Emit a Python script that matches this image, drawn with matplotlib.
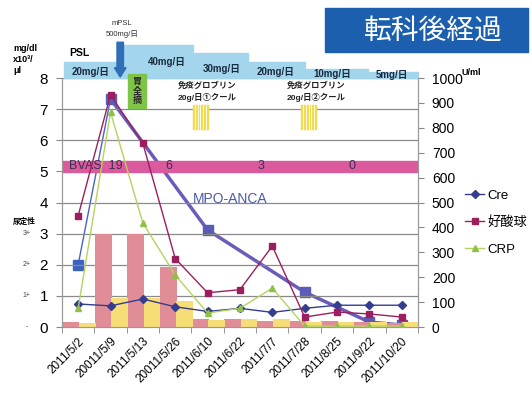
import numpy as np
import matplotlib.pyplot as plt
from matplotlib.patches import Rectangle, FancyArrow

plt.rcParams['font.family'] = ['Liberation Sans', 'Noto Sans CJK JP']

# --- data -------------------------------------------------------------
dates = ['2011/5/2', '20011/5/9', '2011/5/13', '20011/5/26', '2011/6/10',
         '2011/6/22', '2011/7/7', '2011/7/28', '2011/8/25', '2011/9/22',
         '2011/10/20']
cre = [0.74, 0.68, 0.9, 0.65, 0.5, 0.6, 0.47, 0.6, 0.7, 0.7, 0.7]
eos = [3.57, 7.46, 5.9, 2.2, 1.1, 1.2, 2.6, 0.32, 0.48, 0.42, 0.32]
crp = [0.6, 6.9, 3.34, 1.67, 0.45, 0.6, 1.25, 0.03, 0.03, 0.03, 0.03]
mpo_anca = [250, 916, np.nan, np.nan, 390, np.nan, np.nan, 140, np.nan, 20, 8]
urine_blood = [0.15, 3.0, 3.0, 1.93, 0.25, 0.25, 0.2, 0.2, 0.2, 0.15, 0.12]
urine_protein = [0.13, 0.93, 0.93, 0.83, 0.22, 0.25, 0.25, 0.15, 0.15, 0.15, 0.15]

psl_labels = ['20mg/日', '40mg/日', '30mg/日', '20mg/日', '10mg/日', '5mg/日']
psl_edges = [-0.44, 1.23, 3.54, 5.25, 7.0, 8.95, 10.5]
psl_tops = [8.5, 9.07, 8.8, 8.5, 8.3, 8.18]

bvas_labels = ['BVAS  19', '6', '3', '0']
bvas_x = [0.55, 2.8, 5.65, 8.45]

urine_ticks = [3, 2, 1, 0]
urine_tick_labels = ['3+', '2+', '1+', '-']

fig = plt.figure(figsize=(5.32, 3.96), dpi=100)
ax = fig.add_axes([0.1165, 0.1742, 0.669, 0.6288])
ax2 = ax.twinx()

x = np.arange(len(dates))

# urine bars
ax.bar(x - 0.22, urine_blood, width=0.52, color='#e18d98', zorder=2)
ax.bar(x + 0.28, urine_protein, width=0.52, color='#f5de76', zorder=2)

# BVAS band
ax.add_patch(Rectangle((-0.5, 4.98), 11.0, 0.36, color='#db5a9e', zorder=1.5))
for lbl, bx in zip(bvas_labels, bvas_x):
    ax.text(bx, 5.16, lbl, fontsize=9, color='#3a3050', ha='center', va='center',
            zorder=3)
ax.text(4.7, 4.12, 'MPO-ANCA', fontsize=10, color='#4a5aa8', ha='center',
        va='center', zorder=3)

# lines
l_cre, = ax.plot(x, cre, color='#343d8f', lw=1, marker='D', ms=4, zorder=5)
l_eos, = ax.plot(x, eos, color='#9b1f5f', lw=1, marker='s', ms=5, zorder=5)
l_crp, = ax.plot(x, crp, color='#b3d45e', lw=1, marker='^', ms=5,
                 mfc='#8fc04a', mec='#8fc04a', zorder=5)

mpo = np.array(mpo_anca, dtype=float)
ok = ~np.isnan(mpo)
ax2.plot(x[ok][:2], mpo[ok][:2], color='#4a63c0', lw=1, zorder=5)
ax2.plot(x[ok][1:], mpo[ok][1:], color='#6a5cb8', lw=2.5, zorder=5)
ax2.plot(x[ok][1:], mpo[ok][1:], ls='none', marker='s', ms=7,
         color='#5a5cb5', zorder=6)
ax2.plot(x[ok][:1], mpo[ok][:1], ls='none', marker='s', ms=7,
         color='#3d63c2', zorder=6)

# axes
ax.set_xlim(-0.5, 10.5)
ax.set_ylim(0, 8)
ax2.set_ylim(0, 1000)
ax.set_yticks(range(0, 9))
ax2.set_yticks(range(0, 1001, 100))
ax.set_xticks(x)
ax.set_xticks(np.arange(-0.5, 11, 1), minor=True)
ax.set_xticklabels(dates, rotation=45, ha='right', va='top',
                   rotation_mode='anchor', fontsize=8.5)
ax.tick_params(axis='x', which='major', length=0, pad=6)
ax.tick_params(axis='x', which='minor', length=4, color='#888888')
ax.tick_params(axis='y', labelsize=11, length=4, color='#888888', pad=6)
ax2.tick_params(axis='y', labelsize=10, length=4, color='#888888', pad=6)
ax.grid(axis='y', color='#8a8a8a', lw=0.9, zorder=0)
ax.set_axisbelow(True)
ax.set_zorder(ax2.get_zorder() + 1)
ax.patch.set_visible(False)
for a in (ax, ax2):
    a.spines['top'].set_visible(False)
    for s in ('left', 'right', 'bottom'):
        a.spines[s].set_color('#999999')

# PSL dose band above the plot
for i, lbl in enumerate(psl_labels):
    ax.add_patch(Rectangle((psl_edges[i], 8.0), psl_edges[i + 1] - psl_edges[i],
                           psl_tops[i] - 8.0, color='#a3d5ec', clip_on=False,
                           zorder=1))
label_y = [8.2, 8.5, 8.3, 8.2, 8.13, 8.1]
label_x = [0.4, 2.75, 4.45, 6.1, 7.85, 9.7]
for lbl, lx, ly in zip(psl_labels, label_x, label_y):
    ax.text(lx, ly, lbl, fontsize=7, fontweight='bold', color='#1a2a40',
            ha='center', va='center', clip_on=False)

# mPSL pulse arrow
ax.add_patch(FancyArrow(1.3, 9.15, 0, -1.12, width=0.2, head_width=0.36,
                        head_length=0.3, length_includes_head=True,
                        color='#2e6fb5', clip_on=False, zorder=4))
ax.text(1.35, 9.75, 'mPSL', fontsize=5.5, ha='center', va='center',
        color='#333333', clip_on=False)
ax.text(1.35, 9.42, '500mg/日', fontsize=5.5, ha='center', va='center',
        color='#333333', clip_on=False)

# gastrectomy box
ax.add_patch(Rectangle((1.54, 7.03), 0.56, 1.1, color='#80c447', clip_on=False,
                       zorder=4))
ax.text(1.82, 7.58, '胃\n全\n摘', fontsize=6.5, fontweight='bold', ha='center',
        va='center', color='#2a2a2a', linespacing=1.1, zorder=5)

# immunoglobulin courses
for cx, course, hx in [(4.0, '①', 3.54), (7.35, '②', 6.88)]:
    ax.text(cx, 7.75, '免疫グロブリン', fontsize=6, fontweight='bold',
            ha='center', va='center', color='#222222')
    ax.text(cx, 7.37, '20g/日' + course + 'クール', fontsize=6,
            fontweight='bold', ha='center', va='center', color='#222222')
    ax.add_patch(Rectangle((hx, 6.37), 0.48, 0.77, color='#f2db52', zorder=3))
    for k in range(1, 6):
        ax.plot([hx + k * 0.08] * 2, [6.37, 7.14], color='white', lw=0.6,
                zorder=3.5)

# axis annotations
fig.text(0.025, 0.89, 'mg/dl\nx10³/\nμl', fontsize=6.5, fontweight='bold',
         va='top', ha='left', linespacing=1.3)
fig.text(0.13, 0.865, 'PSL', fontsize=7.5, fontweight='bold', va='center')
fig.text(0.868, 0.818, 'U/ml', fontsize=6.5, fontweight='bold', va='center')
fig.text(0.025, 0.44, '尿定性', fontsize=5.5, fontweight='bold', va='center')
for v, lbl in zip(urine_ticks, urine_tick_labels):
    ax.text(-0.1, v, lbl, fontsize=5, transform=ax.get_yaxis_transform(),
            ha='center', va='center', color='#444444')

# title box
fig.patches.append(Rectangle((0.611, 0.868), 0.382, 0.112, color='#1c5fae',
                             transform=fig.transFigure, figure=fig))
fig.text(0.815, 0.923, '転科後経過', fontsize=20, color='white', ha='center',
         va='center', family=['Noto Sans CJK JP'])

ax.legend([l_cre, l_eos, l_crp], ['Cre', '好酸球', 'CRP'],
          loc='center left', bbox_to_anchor=(1.1, 0.42), frameon=False,
          fontsize=9.5, handlelength=1.4, labelspacing=1.1, handletextpad=0.3)

fig.savefig('out.png', dpi=100)
